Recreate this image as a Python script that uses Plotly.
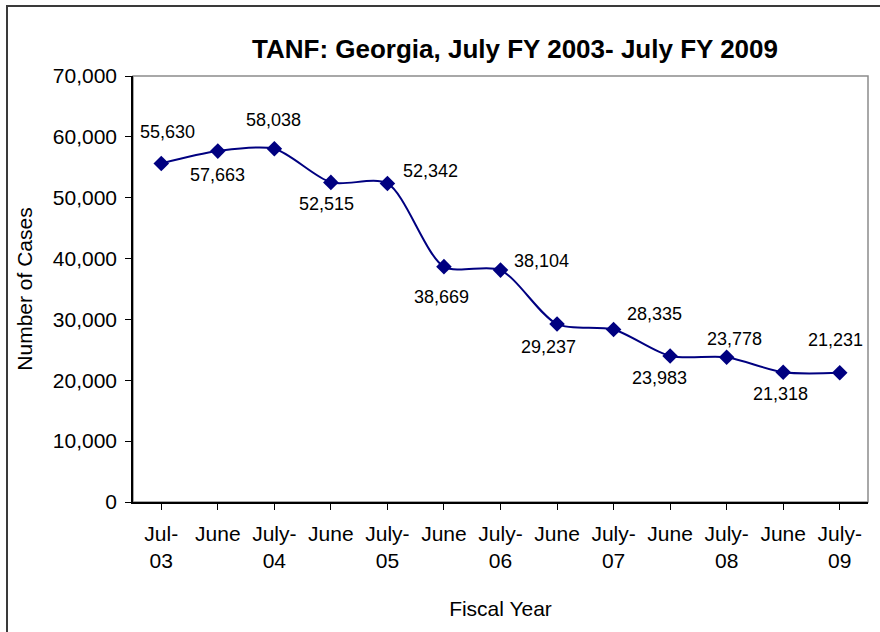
import plotly.graph_objects as go

# Monthly TANF caseload, Georgia
categories = ["Jul-<br>03", "June", "July-<br>04", "June", "July-<br>05", "June",
              "July-<br>06", "June", "July-<br>07", "June", "July-<br>08", "June",
              "July-<br>09"]
cases = [55630, 57663, 58038, 52515, 52342, 38669, 38104, 29237, 28335,
         23983, 23778, 21318, 21231]

# label offsets in pixels (right, up) relative to each marker
label_dx = [6, 0, -1, -4, 43, -2, 41, -9, 41, -11, 8, -3, -4]
label_dy = [31, -24, 29, -22, 12, -30, 9, -23, 16, -22, 18, -22, 33]

FONT = "Liberation Sans, Arial, sans-serif"
NAVY = "#000080"

x_idx = list(range(len(categories)))

fig = go.Figure()
fig.add_trace(go.Scatter(
    x=x_idx, y=cases, mode="lines+markers",
    line=dict(color=NAVY, width=2, shape="spline", smoothing=0.8),
    marker=dict(symbol="diamond", size=12, color=NAVY),
    hoverinfo="skip", showlegend=False,
))

annotations = []
for i, v in enumerate(cases):
    annotations.append(dict(
        x=i, y=v, xref="x", yref="y", text=f"{v:,}", showarrow=False,
        xshift=label_dx[i], yshift=label_dy[i],
        font=dict(family=FONT, size=18, color="black"),
    ))

# chart title
annotations.append(dict(
    text="<b>TANF: Georgia, July FY 2003- July FY 2009</b>",
    xref="paper", yref="paper", x=0.52, y=1.0 + 27 / 426.0,
    yanchor="middle", showarrow=False,
    font=dict(family=FONT, size=26, color="black"),
))

shapes = [
    # plot area border
    dict(type="rect", xref="paper", yref="paper", x0=0, y0=0, x1=1, y1=1,
         line=dict(color="#8c8c8c", width=1.5), layer="below"),
    # outer chart frame
    dict(type="rect", xref="paper", yref="paper",
         x0=(7 - 133) / 735.0, y0=(502 - 645) / 426.0,
         x1=(890 - 133) / 735.0, y1=(502 - 6) / 426.0,
         line=dict(color="#3a3a3a", width=2), layer="below"),
]

fig.update_layout(
    width=880, height=632,
    margin=dict(l=133, r=12, t=76, b=130),
    paper_bgcolor="white", plot_bgcolor="white",
    font=dict(family=FONT, size=21, color="black"),
    annotations=annotations, shapes=shapes,
    xaxis=dict(
        tickmode="array", tickvals=x_idx, ticktext=categories,
        range=[-0.5, len(categories) - 0.5],
        showgrid=False, zeroline=False,
        showline=True, linecolor="black", linewidth=1.5,
        ticks="outside", ticklen=6, tickcolor="black", tickwidth=1,
        ticklabelstandoff=6,
        tickfont=dict(family=FONT, size=21, color="black"),
        title=dict(text="Fiscal Year", font=dict(family=FONT, size=21), standoff=30),
    ),
    yaxis=dict(
        range=[0, 70000], dtick=10000, tickformat=",",
        showgrid=False, zeroline=False,
        showline=True, linecolor="black", linewidth=1.5,
        ticks="outside", ticklen=6, tickcolor="black", tickwidth=1,
        ticklabelstandoff=4,
        tickfont=dict(family=FONT, size=21, color="black"),
        title=dict(text="Number of Cases", font=dict(family=FONT, size=21), standoff=14),
    ),
)

# draw category boundary ticks on the x axis
fig.update_xaxes(tickson="boundaries")

fig.write_html("out.html")
